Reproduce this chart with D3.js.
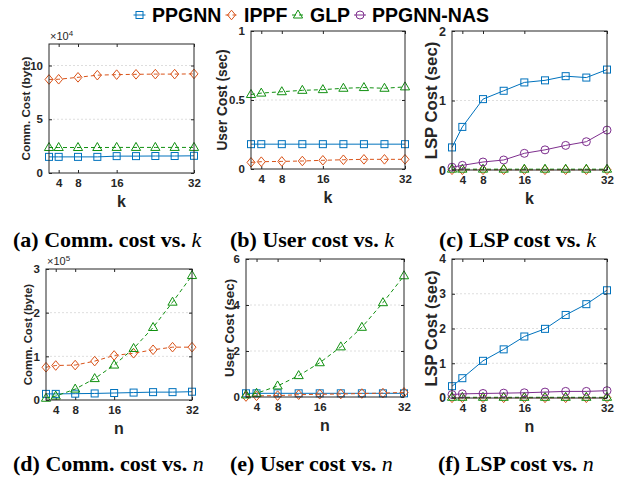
<!DOCTYPE html>
<html>
<head>
<meta charset="utf-8">
<script src="https://cdn.jsdelivr.net/npm/d3@7"></script>
<style>
  body { margin: 0; background: #fff; }
  text { font-family: "Liberation Sans", Arial, sans-serif; }
</style>
</head>
<body>
<div id="chart"></div>
<script>
// x values shared by all panels (k or n)
const xVals = [2, 4, 8, 12, 16, 20, 24, 28, 32];
const xTicks = [4, 8, 16, 32];
const seriesNames = ["PPGNN", "IPPF", "GLP", "PPGNN-NAS"];

// (a) Comm. cost vs k  (x10^4 byte)
const commK_PPGNN = [1.5, 1.5, 1.5, 1.5, 1.57, 1.57, 1.58, 1.58, 1.6];
const commK_IPPF  = [8.7, 8.72, 8.9, 9.1, 9.15, 9.18, 9.2, 9.2, 9.22];
const commK_GLP   = [2.37, 2.37, 2.37, 2.37, 2.38, 2.38, 2.38, 2.38, 2.38];

// (b) User cost vs k (sec)
const userK_PPGNN = [0.18, 0.18, 0.18, 0.18, 0.18, 0.18, 0.18, 0.18, 0.18];
const userK_IPPF  = [0.048, 0.053, 0.055, 0.058, 0.063, 0.067, 0.07, 0.07, 0.07];
const userK_GLP   = [0.54, 0.55, 0.56, 0.57, 0.575, 0.585, 0.59, 0.585, 0.595];

// (c) LSP cost vs k (sec)
const lspK_PPGNN = [0.325, 0.62, 1.02, 1.14, 1.26, 1.29, 1.35, 1.33, 1.445];
const lspK_IPPF  = [0.003, 0.003, 0.003, 0.003, 0.003, 0.003, 0.003, 0.003, 0.003];
const lspK_GLP   = [0.012, 0.012, 0.012, 0.012, 0.012, 0.012, 0.012, 0.012, 0.012];
const lspK_NAS   = [0.04, 0.067, 0.115, 0.144, 0.24, 0.29, 0.354, 0.407, 0.574];

// (d) Comm. cost vs n (x10^5 byte)
const commN_PPGNN = [0.14, 0.14, 0.145, 0.15, 0.16, 0.17, 0.18, 0.18, 0.19];
const commN_IPPF  = [0.75, 0.79, 0.8, 0.89, 1.02, 1.07, 1.15, 1.21, 1.21];
const commN_GLP   = [0.04, 0.09, 0.25, 0.49, 0.8, 1.18, 1.66, 2.24, 2.85];

// (e) User cost vs n (sec)
const userN_PPGNN = [0.16, 0.16, 0.16, 0.16, 0.16, 0.16, 0.16, 0.16, 0.16];
const userN_IPPF  = [0.02, 0.05, 0.06, 0.1, 0.12, 0.13, 0.15, 0.17, 0.2];
const userN_GLP   = [0.09, 0.16, 0.48, 0.93, 1.49, 2.18, 3.03, 4.1, 5.27];

// (f) LSP cost vs n (sec)
const lspN_PPGNN = [0.34, 0.57, 1.07, 1.4, 1.77, 1.99, 2.39, 2.7, 3.1];
const lspN_IPPF  = [0.005, 0.005, 0.005, 0.005, 0.005, 0.005, 0.005, 0.005, 0.005];
const lspN_GLP   = [0.02, 0.02, 0.02, 0.02, 0.02, 0.02, 0.02, 0.02, 0.02];
const lspN_NAS   = [0.1, 0.12, 0.13, 0.14, 0.15, 0.17, 0.19, 0.19, 0.21];

const colors = { "PPGNN": "#0072BD", "IPPF": "#D95319", "GLP": "#109010", "PPGNN-NAS": "#7E2F8E" };
const dashes = { "PPGNN": null, "IPPF": "4,3", "GLP": "4,3", "PPGNN-NAS": null };
const shapes = { "PPGNN": "square", "IPPF": "diamond", "GLP": "triangle", "PPGNN-NAS": "circle" };

const panels = [
  { box: [49, 194, 44, 173], yMax: 12, yTicks: [0, 5, 10], yLabel: "Comm. Cost (byte)", yLabelSize: 11.7, yLabelX: 25, xLabel: "k", exp: "4",
    series: { "PPGNN": commK_PPGNN, "IPPF": commK_IPPF, "GLP": commK_GLP }, caption: ["(a) Comm. cost vs. ", "k"], capX: 13, capY: 247 },
  { box: [251, 405, 31, 169], yMax: 1, yTicks: [0, 0.5, 1], yLabel: "User Cost (sec)", yLabelSize: 13.8, yLabelX: 222, xLabel: "k",
    series: { "PPGNN": userK_PPGNN, "IPPF": userK_IPPF, "GLP": userK_GLP }, caption: ["(b) User cost vs. ", "k"], capX: 230, capY: 247 },
  { box: [452, 607, 31, 170], yMax: 2, yTicks: [0, 1, 2], yLabel: "LSP Cost (sec)", yLabelSize: 16.7, yLabelX: 431, xLabel: "k", yTickSize: 12.5,
    series: { "IPPF": lspK_IPPF, "PPGNN": lspK_PPGNN, "GLP": lspK_GLP, "PPGNN-NAS": lspK_NAS }, caption: ["(c) LSP cost vs. ", "k"], capX: 439, capY: 247 },
  { box: [46, 192, 269, 400], yMax: 3, yTicks: [0, 1, 2, 3], yLabel: "Comm. Cost (byte)", yLabelSize: 11.4, yLabelX: 28, xLabel: "n", exp: "5",
    series: { "PPGNN": commN_PPGNN, "IPPF": commN_IPPF, "GLP": commN_GLP }, caption: ["(d) Comm. cost vs. ", "n"], capX: 13, capY: 471 },
  { box: [246, 404, 259, 397], yMax: 6, yTicks: [0, 2, 4, 6], yLabel: "User Cost (sec)", yLabelSize: 13.4, yLabelX: 229, xLabel: "n",
    series: { "PPGNN": userN_PPGNN, "IPPF": userN_IPPF, "GLP": userN_GLP }, caption: ["(e) User cost vs. ", "n"], capX: 230, capY: 471 },
  { box: [452, 607, 259, 398], yMax: 4, yTicks: [0, 1, 2, 3, 4], yLabel: "LSP Cost (sec)", yLabelSize: 16.5, yLabelX: 431, xLabel: "n", yTickSize: 12,
    series: { "IPPF": lspN_IPPF, "PPGNN": lspN_PPGNN, "GLP": lspN_GLP, "PPGNN-NAS": lspN_NAS }, caption: ["(f) LSP cost vs. ", "n"], capX: 438, capY: 471 }
];

const svg = d3.select("#chart").append("svg")
  .attr("width", 634).attr("height", 481);

function drawMarker(g, shape, cx, cy, color) {
  if (shape === "square") {
    g.append("rect").attr("x", cx - 3.5).attr("y", cy - 3.5).attr("width", 7).attr("height", 7)
      .attr("fill", "none").attr("stroke", color).attr("stroke-width", 1);
  } else if (shape === "diamond") {
    g.append("path").attr("d", `M${cx},${cy - 4.8}L${cx + 4},${cy}L${cx},${cy + 4.8}L${cx - 4},${cy}Z`)
      .attr("fill", "none").attr("stroke", color).attr("stroke-width", 1);
  } else if (shape === "triangle") {
    g.append("path").attr("d", `M${cx},${cy - 5}L${cx + 4.6},${cy + 3}L${cx - 4.6},${cy + 3}Z`)
      .attr("fill", "none").attr("stroke", color).attr("stroke-width", 1);
  } else {
    g.append("circle").attr("cx", cx).attr("cy", cy).attr("r", 4)
      .attr("fill", "none").attr("stroke", color).attr("stroke-width", 1);
  }
}

panels.forEach(p => {
  const [l, r, t, b] = p.box;
  const x = d3.scaleLinear().domain([2, 32]).range([l, r]);
  const y = d3.scaleLinear().domain([0, p.yMax]).range([b, t]);
  const g = svg.append("g");

  // grid
  g.selectAll(".grid").data(p.yTicks.filter(v => v > 0 && v < p.yMax)).enter()
    .append("line")
    .attr("x1", l).attr("x2", r)
    .attr("y1", d => y(d)).attr("y2", d => y(d))
    .attr("stroke", "#d6d6d6").attr("stroke-width", 0.8).attr("stroke-dasharray", "2,2");

  // axes with inward ticks
  const ax = [
    { gen: d3.axisBottom(x).tickValues(xTicks), tr: `translate(0,${b})`, labels: true, size: 11.5 },
    { gen: d3.axisTop(x).tickValues(xTicks), tr: `translate(0,${t})`, labels: false, size: 11.5 },
    { gen: d3.axisLeft(y).tickValues(p.yTicks), tr: `translate(${l},0)`, labels: true, size: p.yTickSize || 11.5 },
    { gen: d3.axisRight(y).tickValues(p.yTicks), tr: `translate(${r},0)`, labels: false, size: 11.5 }
  ];
  ax.forEach(a => {
    const ag = g.append("g").attr("transform", a.tr)
      .call(a.gen.tickSizeInner(-3).tickSizeOuter(0).tickPadding(6).tickFormat(d => String(d)));
    ag.select(".domain").remove();
    ag.selectAll("line").attr("stroke", "#262626");
    ag.selectAll("text")
      .attr("font-size", a.size).attr("font-weight", "bold").attr("fill", "#262626")
      .attr("font-family", "Liberation Sans, Arial, sans-serif");
    if (!a.labels) ag.selectAll("text").remove();
  });

  // series
  seriesNames.forEach(name => {
    const vals = p.series[name];
    if (!vals) return;
    const pts = xVals.map((xv, i) => [x(xv), y(vals[i])]);
    g.append("path").attr("d", d3.line()(pts))
      .attr("fill", "none").attr("stroke", colors[name]).attr("stroke-width", 1)
      .attr("stroke-dasharray", dashes[name]);
    pts.forEach(pt => drawMarker(g, shapes[name], pt[0], pt[1], colors[name]));
  });

  // box
  g.append("rect").attr("x", l).attr("y", t).attr("width", r - l).attr("height", b - t)
    .attr("fill", "none").attr("stroke", "#262626").attr("stroke-width", 1);

  // exponent
  if (p.exp) {
    const et = g.append("text").attr("x", l + 1).attr("y", t - 4)
      .attr("font-size", 11).attr("fill", "#262626");
    et.append("tspan").text("\u00d710");
    et.append("tspan").attr("dy", -4).attr("font-size", 8).text(p.exp);
  }

  // axis labels
  g.append("text")
    .attr("transform", `translate(${p.yLabelX},${(t + b) / 2}) rotate(-90)`)
    .attr("text-anchor", "middle").attr("dominant-baseline", "central")
    .attr("font-size", p.yLabelSize).attr("font-weight", "bold").attr("fill", "#262626")
    .text(p.yLabel);
  g.append("text")
    .attr("x", (l + r) / 2).attr("y", b + 34)
    .attr("text-anchor", "middle")
    .attr("font-size", 16).attr("font-weight", "bold").attr("fill", "#262626")
    .text(p.xLabel);

  // caption
  const cap = svg.append("text").attr("x", p.capX).attr("y", p.capY)
    .attr("font-size", 22).attr("font-weight", "bold").attr("fill", "#000")
    .style("font-family", "'Liberation Serif', 'Times New Roman', serif");
  cap.append("tspan").text(p.caption[0]);
  cap.append("tspan").attr("font-style", "italic").attr("font-weight", "normal").text(p.caption[1]);
});

// legend
const legendItems = [
  { name: "PPGNN", mx: 139.5, tx: 152 },
  { name: "IPPF", mx: 231.5, tx: 244 },
  { name: "GLP", mx: 298, tx: 310 },
  { name: "PPGNN-NAS", mx: 360, tx: 372 }
];
const lg = svg.append("g");
legendItems.forEach(it => {
  lg.append("line").attr("x1", it.mx - 6).attr("x2", it.mx + 6).attr("y1", 15).attr("y2", 15)
    .attr("stroke", colors[it.name]).attr("stroke-width", 1)
    .attr("stroke-dasharray", dashes[it.name]);
  drawMarker(lg, shapes[it.name], it.mx, 15, colors[it.name]);
  lg.append("text").attr("x", it.tx).attr("y", 22)
    .attr("font-size", 19.5).attr("font-weight", "bold").attr("fill", "#000")
    .text(it.name);
});
</script>
</body>
</html>
